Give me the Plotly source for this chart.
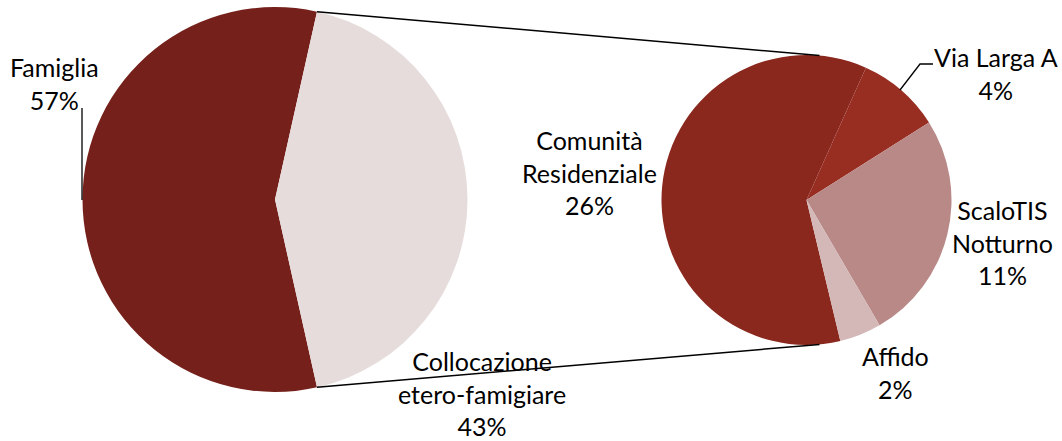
import math
import plotly.graph_objects as go

W, H = 1062, 441

# ---- data ----
main_labels = ["Famiglia", "Collocazione<br>etero-famigiare"]
main_values = [57, 43]
main_colors = ["#75201A", "#E6DCDB"]

sub_labels = ["Comunità<br>Residenziale", "Via Larga A", "ScaloTIS<br>Notturno", "Affido"]
sub_values = [26, 4, 11, 2]
sub_colors = ["#8A281E", "#982D22", "#B88987", "#D3B8B7"]

# ---- geometry (pixels) ----
L_CX, L_CY, L_R = 275.0, 199.5, 192.5
R_CX, R_CY, R_R = 806.5, 200.0, 145.0

# the split-off slice of the main pie is centred on 3 o'clock
split_share = main_values[1] / sum(main_values)
main_rotation = 90 + split_share * 360 / 2
sub_rotation = 166.5


def px_x(x):
    return x / W


def px_y(y):
    return 1 - y / H


fig = go.Figure()

fig.add_trace(go.Pie(
    labels=main_labels, values=main_values, sort=False, direction="clockwise",
    rotation=main_rotation, marker=dict(colors=main_colors, line=dict(width=0)),
    textinfo="none", hoverinfo="label+percent", showlegend=False,
    domain=dict(x=[px_x(L_CX - L_R), px_x(L_CX + L_R)],
                y=[px_y(L_CY + L_R), px_y(L_CY - L_R)]),
))

fig.add_trace(go.Pie(
    labels=sub_labels, values=sub_values, sort=False, direction="clockwise",
    rotation=sub_rotation, marker=dict(colors=sub_colors, line=dict(width=0)),
    textinfo="none", hoverinfo="label+value", showlegend=False,
    domain=dict(x=[px_x(R_CX - R_R), px_x(R_CX + R_R)],
                y=[px_y(R_CY + R_R), px_y(R_CY - R_R)]),
))

# connector lines from the split slice edges to the secondary pie
half = math.radians(split_share * 360 / 2)
a1 = math.radians(90) - half
a2 = math.radians(90) + half
p_top = (L_CX + L_R * math.sin(a1), L_CY - L_R * math.cos(a1))
p_bot = (L_CX + L_R * math.sin(a2), L_CY - L_R * math.cos(a2))
dx = 13.0
q_top = (R_CX + dx, R_CY - math.sqrt(R_R ** 2 - dx ** 2))
q_bot = (R_CX + dx, R_CY + math.sqrt(R_R ** 2 - dx ** 2))

shapes = []
for p, q in [(p_top, q_top), (p_bot, q_bot)]:
    shapes.append(dict(type="line", xref="paper", yref="paper",
                       x0=px_x(p[0]), y0=px_y(p[1]), x1=px_x(q[0]), y1=px_y(q[1]),
                       line=dict(color="black", width=1.5)))

# leader lines
shapes.append(dict(type="line", xref="paper", yref="paper",
                   x0=px_x(82), y0=px_y(108), x1=px_x(82), y1=px_y(200),
                   line=dict(color="black", width=1.3)))
shapes.append(dict(type="path", xref="paper", yref="paper",
                   path=f"M {px_x(900)} {px_y(90)} L {px_x(920)} {px_y(64)} L {px_x(933)} {px_y(64)}",
                   line=dict(color="black", width=1.3)))

# labels
main_pct = [f"{round(v / sum(main_values) * 100)}%" for v in main_values]
sub_pct = [f"{round(v / sum(main_values) * 100)}%" for v in sub_values]

label_pos_main = [(54, 83.5), (482, 393)]
label_pos_sub = [(589, 172), (996, 73.5), (1002, 243), (895, 372.5)]

annotations = []
for lab, pct, (x, y) in zip(main_labels, main_pct, label_pos_main):
    annotations.append(dict(text=f"{lab}<br>{pct}", x=px_x(x), y=px_y(y),
                            xref="paper", yref="paper", showarrow=False,
                            xanchor="center", yanchor="middle", align="center"))
for lab, pct, (x, y) in zip(sub_labels, sub_pct, label_pos_sub):
    annotations.append(dict(text=f"{lab}<br>{pct}", x=px_x(x), y=px_y(y),
                            xref="paper", yref="paper", showarrow=False,
                            xanchor="center", yanchor="middle", align="center"))

fig.update_layout(
    width=W, height=H,
    margin=dict(l=0, r=0, t=0, b=0),
    paper_bgcolor="white", plot_bgcolor="white",
    font=dict(family="Lato, 'Open Sans', sans-serif", size=25, color="black"),
    shapes=shapes, annotations=annotations,
    showlegend=False,
)

fig.write_html(
    "out.html",
    config={"displayModeBar": False},
    post_script="document.body.style.margin='0';document.body.style.overflow='hidden';",
)
